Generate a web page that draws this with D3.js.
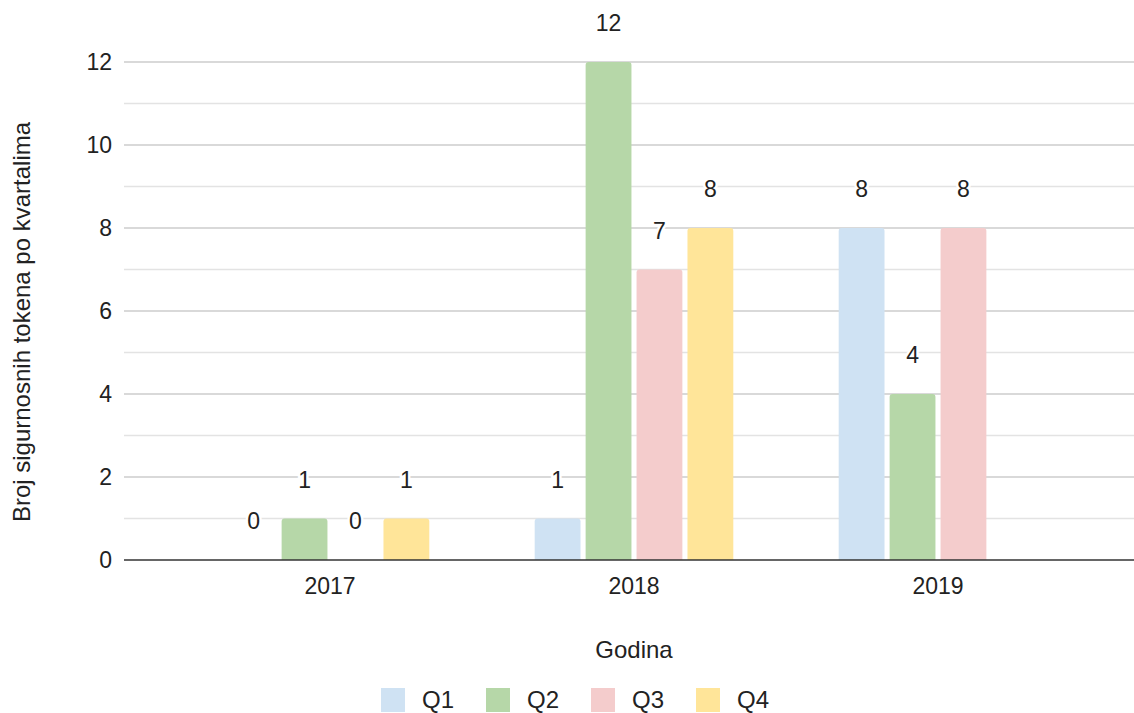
<!DOCTYPE html>
<html>
<head>
<meta charset="utf-8">
<script src="https://cdn.jsdelivr.net/npm/d3@7"></script>
<style>
  body { margin: 0; background: #fff; }
  text { font-family: "Liberation Sans", Arial, sans-serif; fill: #222; }
</style>
</head>
<body>
<div id="chart"></div>
<script>
const years = ["2017", "2018", "2019"];
const quarters = ["Q1", "Q2", "Q3", "Q4"];
const q1 = [0, 1, 8];
const q2 = [1, 12, 4];
const q3 = [0, 7, 8];
const q4 = [1, 8, null];
const colors = ["#cfe2f3", "#b6d7a8", "#f4cccc", "#ffe599"];
const yTicks = [0, 2, 4, 6, 8, 10, 12];

const series = [q1, q2, q3, q4];

const width = 1134, height = 713;
const plot = { left: 124, right: 1134, top: 62, bottom: 560 };
const fsNum = "23px";
const fsTitle = "24px";

const svg = d3.select("#chart").append("svg")
    .attr("width", width)
    .attr("height", height);

const y = d3.scaleLinear().domain([0, 12]).range([plot.bottom, plot.top]);

// grupe po godinama
const x0 = d3.scaleBand().domain(years).range([178, 1090])
    .paddingInner(0.34).paddingOuter(0.17);
const x1 = d3.scaleBand().domain(quarters).range([0, x0.bandwidth()])
    .paddingInner(0.1).paddingOuter(0.02);

// mreža - svaka jedinica
svg.append("g").selectAll("line")
  .data(d3.range(1, 13))
  .enter().append("line")
    .attr("x1", plot.left).attr("x2", plot.right)
    .attr("y1", d => y(d)).attr("y2", d => y(d))
    .style("stroke", d => d % 2 === 0 ? "#cccccc" : "#e3e3e3")
    .style("stroke-width", "1.5px");

// y oznake
const yAxis = svg.append("g")
    .attr("transform", `translate(${plot.left - 12},0)`)
    .call(d3.axisLeft(y).tickValues(yTicks).tickSize(0).tickPadding(0));
yAxis.select(".domain").remove();
yAxis.selectAll("text")
    .style("font-size", fsNum)
    .style("font-family", "'Liberation Sans', Arial, sans-serif")
    .style("fill", "#222");

// stupci
const r = 3;
function barPath(x, w, top, bottom) {
  const h = bottom - top;
  if (h <= 0) return "";
  const rr = Math.min(r, h);
  return `M${x},${bottom}V${top + rr}Q${x},${top} ${x + rr},${top}H${x + w - rr}Q${x + w},${top} ${x + w},${top + rr}V${bottom}Z`;
}

const data = [];
years.forEach((yr, i) => {
  quarters.forEach((q, j) => {
    const v = series[j][i];
    if (v !== null) data.push({ year: yr, q: q, v: v, c: colors[j] });
  });
});

svg.append("g").selectAll("path")
  .data(data)
  .enter().append("path")
    .attr("d", d => barPath(x0(d.year) + x1(d.q), x1.bandwidth(), y(d.v), y(0)))
    .style("fill", d => d.c);

// os x
svg.append("line")
    .attr("x1", plot.left).attr("x2", plot.right)
    .attr("y1", y(0)).attr("y2", y(0))
    .style("stroke", "#333")
    .style("stroke-width", "1.5px");

// oznake vrijednosti
svg.append("g").selectAll("text")
  .data(data)
  .enter().append("text")
    .attr("x", d => x0(d.year) + x1(d.q) + x1.bandwidth() / 2)
    .attr("y", d => y(d.v) - 39)
    .attr("text-anchor", "middle")
    .attr("dy", "0.35em")
    .style("font-size", fsNum)
    .style("paint-order", "stroke")
    .style("stroke", "#fff")
    .style("stroke-width", "5px")
    .text(d => d.v);

// x oznake
svg.append("g").selectAll("text")
  .data(years)
  .enter().append("text")
    .attr("x", d => x0(d) + x0.bandwidth() / 2)
    .attr("y", 586)
    .attr("dy", "0.35em")
    .attr("text-anchor", "middle")
    .style("font-size", fsNum)
    .text(d => d);

// naslovi osi
svg.append("text")
    .attr("x", 634)
    .attr("y", 650)
    .attr("dy", "0.35em")
    .attr("text-anchor", "middle")
    .style("font-size", fsTitle)
    .text("Godina");

svg.append("text")
    .attr("transform", `translate(22,322) rotate(-90)`)
    .attr("dy", "0.35em")
    .attr("text-anchor", "middle")
    .style("font-size", fsTitle)
    .text("Broj sigurnosnih tokena po kvartalima");

// legenda
const legend = svg.append("g").selectAll("g")
  .data(quarters)
  .enter().append("g")
    .attr("transform", (d, i) => `translate(${381 + i * 105},688)`);
legend.append("rect")
    .attr("width", 24).attr("height", 24)
    .style("fill", (d, i) => colors[i]);
legend.append("text")
    .attr("x", 41).attr("y", 12)
    .attr("dy", "0.35em")
    .style("font-size", fsTitle)
    .text(d => d);
</script>
</body>
</html>
